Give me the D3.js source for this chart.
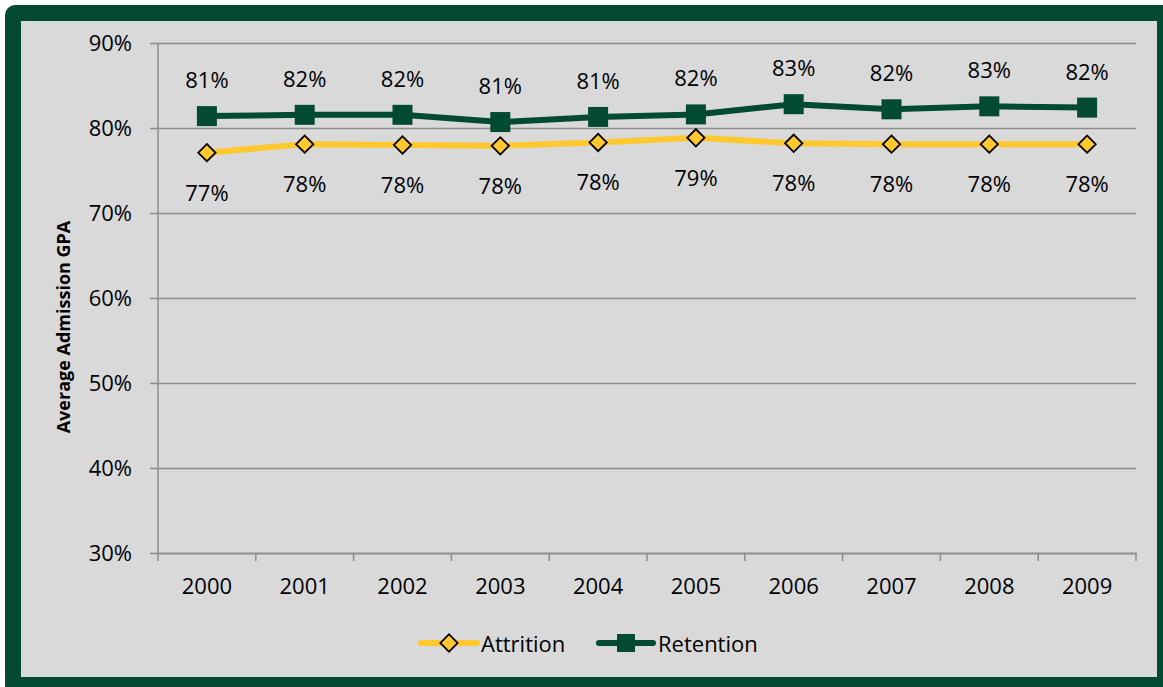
<!DOCTYPE html>
<html>
<head>
<meta charset="utf-8">
<script src="https://cdn.jsdelivr.net/npm/d3@7"></script>
<style>
  body { margin: 0; background: #fff; }
  svg text { font-family: "Open Sans", "Liberation Sans", sans-serif; fill: #000; }
</style>
</head>
<body>
<div id="chart"></div>
<script>
var years = ["2000","2001","2002","2003","2004","2005","2006","2007","2008","2009"];
var attrition = [0.771, 0.781, 0.780, 0.779, 0.783, 0.7885, 0.782, 0.781, 0.781, 0.781];
var retention = [0.814, 0.8155, 0.8155, 0.807, 0.813, 0.816, 0.828, 0.822, 0.8255, 0.824];
var yTicks = [0.3, 0.4, 0.5, 0.6, 0.7, 0.8, 0.9];

var W = 1163, H = 687;
var margin = {left: 158, right: 27, top: 43, bottom: 134};
var width = W - margin.left - margin.right,
    height = H - margin.top - margin.bottom;

var green = "#034a32", yellow = "#ffc82e", grid = "#8c8c8c";

var svg = d3.select("#chart").append("svg")
    .attr("width", W)
    .attr("height", H);

// frame
svg.append("rect")
    .attr("x", 5).attr("y", 5)
    .attr("width", W + 20).attr("height", H + 20)
    .attr("rx", 10)
    .attr("fill", green);
svg.append("rect")
    .attr("x", 21).attr("y", 21)
    .attr("width", 1136).attr("height", 656)
    .attr("fill", "#d9d9d9");

var g = svg.append("g").attr("transform", "translate(" + margin.left + "," + margin.top + ")");

var x = d3.scaleBand().domain(years).range([0, width]);
var y = d3.scaleLinear().domain([0.3, 0.9]).range([height, 0]);
var cx = function(d, i) { return x(years[i]) + x.bandwidth() / 2; };

// gridlines + y axis
var yAxis = g.append("g")
    .call(d3.axisLeft(y).tickValues(yTicks).tickFormat(d3.format(".0%"))
        .tickSize(-width).tickPadding(26));
yAxis.select(".domain").remove();
yAxis.selectAll("line").attr("stroke", grid).attr("stroke-width", 1.5).attr("x1", -8).attr("x2", width);
yAxis.selectAll("text").style("font-size", "22px").attr("fill", "#000");

g.append("line")
    .attr("x1", 0).attr("x2", 0).attr("y1", 0).attr("y2", height)
    .attr("stroke", grid).attr("stroke-width", 1.5);

// x axis
var xAxis = g.append("g")
    .attr("transform", "translate(0," + height + ")")
    .call(d3.axisBottom(x).tickSize(0).tickPadding(25));
xAxis.select(".domain").attr("stroke", grid).attr("stroke-width", 1.5);
xAxis.selectAll("text").style("font-size", "22px").attr("fill", "#000");
xAxis.selectAll(".bnd").data(years.concat(["end"])).enter().append("line")
    .attr("x1", function(d, i) { return i * x.step(); })
    .attr("x2", function(d, i) { return i * x.step(); })
    .attr("y1", 0).attr("y2", 8)
    .attr("stroke", grid).attr("stroke-width", 1.5);

// y title
svg.append("text")
    .attr("transform", "translate(70,327) rotate(-90)")
    .attr("text-anchor", "middle")
    .style("font-size", "18px")
    .style("font-weight", "bold")
    .text("Average Admission GPA");

var line = d3.line()
    .x(cx)
    .y(function(d) { return y(d); });

// attrition
g.append("path").datum(attrition)
    .attr("fill", "none").attr("stroke", yellow).attr("stroke-width", 6)
    .attr("stroke-linejoin", "round").attr("d", line);
// retention
g.append("path").datum(retention)
    .attr("fill", "none").attr("stroke", green).attr("stroke-width", 6)
    .attr("stroke-linejoin", "round").attr("d", line);

var diamond = d3.symbol().type(d3.symbolSquare).size(150);

g.selectAll(".att").data(attrition).enter().append("path")
    .attr("d", diamond)
    .attr("transform", function(d, i) { return "translate(" + cx(d, i) + "," + y(d) + ") rotate(45)"; })
    .attr("fill", yellow).attr("stroke", "#000").attr("stroke-width", 1.8);

g.selectAll(".ret").data(retention).enter().append("rect")
    .attr("x", function(d, i) { return cx(d, i) - 10; })
    .attr("y", function(d) { return y(d) - 10; })
    .attr("width", 20).attr("height", 20)
    .attr("fill", green);

var fmt = d3.format(".0%");
g.selectAll(".retl").data(retention).enter().append("text")
    .attr("x", cx)
    .attr("y", function(d) { return y(d) - 37; })
    .attr("text-anchor", "middle").attr("dominant-baseline", "central")
    .style("font-size", "22px")
    .text(fmt);
g.selectAll(".attl").data(attrition).enter().append("text")
    .attr("x", cx)
    .attr("y", function(d) { return y(d) + 39; })
    .attr("text-anchor", "middle").attr("dominant-baseline", "central")
    .style("font-size", "22px")
    .text(fmt);

// legend
var lg = svg.append("g").attr("transform", "translate(0,643)");
lg.append("line").attr("x1", 421).attr("x2", 477).attr("stroke", yellow).attr("stroke-width", 6).attr("stroke-linecap", "round");
lg.append("path").attr("d", diamond).attr("transform", "translate(449,0) rotate(45)")
    .attr("fill", yellow).attr("stroke", "#000").attr("stroke-width", 1.8);
lg.append("text").attr("x", 481).attr("dominant-baseline", "central").style("font-size", "22px").text("Attrition");
lg.append("line").attr("x1", 599).attr("x2", 653).attr("stroke", green).attr("stroke-width", 6).attr("stroke-linecap", "round");
lg.append("rect").attr("x", 617).attr("y", -9).attr("width", 18).attr("height", 18).attr("fill", green);
lg.append("text").attr("x", 658).attr("dominant-baseline", "central").style("font-size", "22px").text("Retention");
</script>
</body>
</html>
